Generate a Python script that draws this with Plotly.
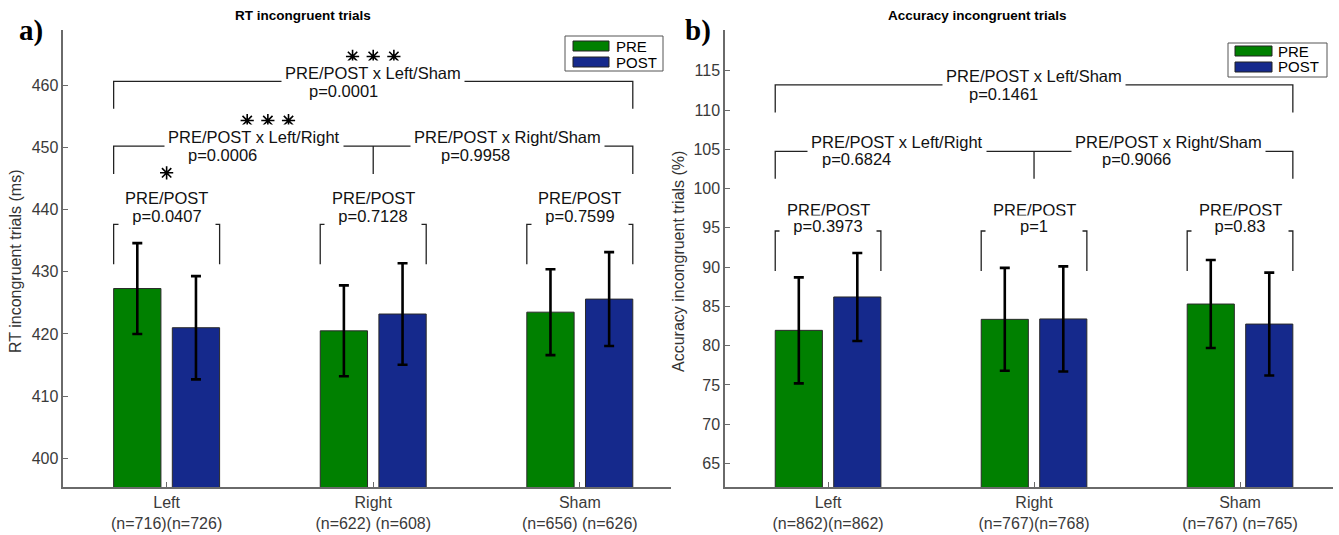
import plotly.graph_objects as go

# ---------------- data ----------------
categories = ["Left", "Right", "Sham"]
cat_pos = [1, 2, 3]
series_names = ["PRE", "POST"]

rt_pre = [427.3, 420.5, 423.5]
rt_pre_err = [7.3, 7.3, 6.9]
rt_post = [421.0, 423.2, 425.6]
rt_post_err = [8.3, 8.15, 7.55]
rt_ticklabels = ["Left<br>(n=716)(n=726)", "Right<br>(n=622) (n=608)", "Sham<br>(n=656) (n=626)"]
rt_yticks = [400, 410, 420, 430, 440, 450, 460]
rt_within_p = ["0.0407", "0.7128", "0.7599"]
rt_within_stars = [1, 0, 0]
rt_pair_names = ["Left/Sham", "Left/Right", "Right/Sham"]
rt_pair_p = ["0.0001", "0.0006", "0.9958"]
rt_pair_stars = [3, 3, 0]

acc_pre = [81.95, 83.35, 85.3]
acc_pre_err = [6.75, 6.55, 5.6]
acc_post = [86.2, 83.4, 82.75]
acc_post_err = [5.6, 6.7, 6.55]
acc_ticklabels = ["Left<br>(n=862)(n=862)", "Right<br>(n=767)(n=768)", "Sham<br>(n=767) (n=765)"]
acc_yticks = [65, 70, 75, 80, 85, 90, 95, 100, 105, 110, 115]
acc_within_p = ["0.3973", "1", "0.83"]
acc_within_stars = [0, 0, 0]
acc_pair_names = ["Left/Sham", "Left/Right", "Right/Sham"]
acc_pair_p = ["0.1461", "0.6824", "0.9066"]
acc_pair_stars = [0, 0, 0]

# ---------------- style ----------------
GREEN = "#008000"
BLUE = "#15298c"
SERIES_COLORS = [GREEN, BLUE]
FONT = "Liberation Sans"
AXC = "#6a6a6a"
TXT = "#111111"
HALF = 0.2565      # half span of a PRE/POST bar pair (outer bar edges)
STAR_DX = 0.1
ANN_SIZE = 16.5

W, H = 1339, 535

panels = [
    dict(name="RT incongruent trials", ylabel="RT incongruent trials (ms)", letter="a)",
         pre=rt_pre, pre_err=rt_pre_err, post=rt_post, post_err=rt_post_err,
         ticktext=rt_ticklabels, yticks=rt_yticks, within_p=rt_within_p,
         within_stars=rt_within_stars, pair_names=rt_pair_names, pair_p=rt_pair_p,
         pair_stars=rt_pair_stars,
         xdom=[0.0473, 0.5009], xrange=[0.5, 3.44], yrange=[395.4, 468.85],
         w_line=437.6, w_bot=431.2, w_t1=441.8, w_t2=438.9, w_star=445.9,
         ls_line=460.6, ls_bot=456.2, ls_t1=(2.0, 461.9), ls_t2=(1.857, 459.1), ls_star=(2.0, 464.6),
         lr_line=450.2, lr_bot=445.7, lr_t1=(1.425, 451.6), lr_t2=(1.27, 448.8), lr_star=(1.49, 454.3),
         rs_t1=(2.649, 451.6), rs_t2=(2.494, 448.8),
         title_x=303, ylab_x=15, letter_x=17,
         leg_box=(565, 663, 36, 71), leg_sw_x=(573, 609), leg_sw_y=[(41, 51), (57, 67)], leg_tx=614),
    dict(name="Accuracy incongruent trials", ylabel="Accuracy incongruent trials (%)", letter="b)",
         pre=acc_pre, pre_err=acc_pre_err, post=acc_post, post_err=acc_post_err,
         ticktext=acc_ticklabels, yticks=acc_yticks, within_p=acc_within_p,
         within_stars=acc_within_stars, pair_names=acc_pair_names, pair_p=acc_pair_p,
         pair_stars=acc_pair_stars,
         xdom=[0.5415, 0.9953], xrange=[0.5, 3.45], yrange=[62.0, 120.2],
         w_line=94.6, w_bot=89.5, w_t1=97.3, w_t2=95.2, w_star=100.0,
         ls_line=113.2, ls_bot=109.7, ls_t1=(2.0, 114.3), ls_t2=(1.854, 112.1), ls_star=(2.0, 117.0),
         lr_line=104.75, lr_bot=101.25, lr_t1=(1.334, 105.9), lr_t2=(1.139, 103.8), lr_star=(1.33, 108.0),
         rs_t1=(2.655, 105.9), rs_t2=(2.498, 103.8),
         title_x=978, ylab_x=678, letter_x=683,
         leg_box=(1228, 1327, 43, 77), leg_sw_x=(1235, 1272), leg_sw_y=[(46, 56), (62, 72)], leg_tx=1276),
]

fig = go.Figure()
shapes = []
annotations = []
layout_axes = {}


def px_x(v):
    return v / W


def px_y(v):
    return 1 - v / H


for i, p in enumerate(panels):
    sfx = "" if i == 0 else str(i + 1)
    xref, yref = "x" + sfx, "y" + sfx
    err_style = dict(type="data", color="black", thickness=2.6, width=5)
    for name, vals, errs, col in ((series_names[0], p["pre"], p["pre_err"], GREEN),
                                  (series_names[1], p["post"], p["post_err"], BLUE)):
        fig.add_trace(go.Bar(x=cat_pos, y=vals, name=name, showlegend=False,
                             xaxis=xref, yaxis=yref,
                             marker=dict(color=col, line=dict(color="#2a2a2a", width=1)),
                             error_y=dict(array=errs, **err_style), hoverinfo="skip"))

    # stars
    sx, sy = [], []

    def add_stars(n, cx, cy):
        for k in range(n):
            sx.append(cx + (k - (n - 1) / 2) * STAR_DX)
            sy.append(cy)
    for c, n in zip(cat_pos, p["within_stars"]):
        add_stars(n, c, p["w_star"])
    add_stars(p["pair_stars"][0], *p["ls_star"])
    add_stars(p["pair_stars"][1], *p["lr_star"])
    if sx:
        fig.add_trace(go.Scatter(x=sx, y=sy, mode="markers", xaxis=xref, yaxis=yref,
                                 showlegend=False, hoverinfo="skip",
                                 marker=dict(symbol="asterisk-open", size=11, color="black",
                                             line=dict(color="black", width=1.6))))

    line_style = dict(color="#222222", width=1.3)
    # within-group brackets
    for c, pv in zip(cat_pos, p["within_p"]):
        x0, x1 = c - HALF, c + HALF
        shapes.append(dict(type="path", xref=xref, yref=yref, line=line_style,
                           path=f"M{x0},{p['w_bot']} L{x0},{p['w_line']} L{x1},{p['w_line']} L{x1},{p['w_bot']}"))
        annotations.append(dict(x=c, y=p["w_t1"], xref=xref, yref=yref, text="PRE/POST",
                                xanchor="center", yanchor="middle",
                                showarrow=False, font=dict(family=FONT, size=ANN_SIZE, color=TXT)))
        annotations.append(dict(x=c, y=p["w_t2"], xref=xref, yref=yref, text="p=" + pv,
                                xanchor="center", yanchor="middle",
                                showarrow=False, bgcolor="white", width=94, borderpad=1,
                                font=dict(family=FONT, size=ANN_SIZE, color=TXT)))
    # Left/Sham bracket
    x0, x1 = cat_pos[0] - HALF, cat_pos[2] + HALF
    shapes.append(dict(type="path", xref=xref, yref=yref, line=line_style,
                       path=f"M{x0},{p['ls_bot']} L{x0},{p['ls_line']} L{x1},{p['ls_line']} L{x1},{p['ls_bot']}"))
    # Left/Right + Right/Sham bracket
    shapes.append(dict(type="path", xref=xref, yref=yref, line=line_style,
                       path=f"M{x0},{p['lr_bot']} L{x0},{p['lr_line']} L{x1},{p['lr_line']} L{x1},{p['lr_bot']}"))
    shapes.append(dict(type="line", xref=xref, yref=yref, line=line_style,
                       x0=cat_pos[1], x1=cat_pos[1], y0=p["lr_line"], y1=p["lr_bot"]))
    for key, k in (("ls", 0), ("lr", 1), ("rs", 2)):
        tx, ty = p[key + "_t1"]
        annotations.append(dict(x=tx, y=ty, xref=xref, yref=yref,
                                xanchor="center", yanchor="middle",
                                text="PRE/POST x " + p["pair_names"][k], showarrow=False,
                                bgcolor="white", borderpad=3,
                                font=dict(family=FONT, size=ANN_SIZE, color=TXT)))
        tx, ty = p[key + "_t2"]
        annotations.append(dict(x=tx, y=ty, xref=xref, yref=yref, text="p=" + p["pair_p"][k],
                                xanchor="center", yanchor="middle",
                                showarrow=False, font=dict(family=FONT, size=ANN_SIZE, color=TXT)))

    # titles, letters, y labels
    annotations.append(dict(x=px_x(p["title_x"]), y=px_y(15), xref="paper", yref="paper",
                            xanchor="center", yanchor="middle",
                            text="<b>" + p["name"] + "</b>", showarrow=False,
                            font=dict(family=FONT, size=13.5, color="#000")))
    annotations.append(dict(x=px_x(p["letter_x"]), y=px_y(30), xref="paper", yref="paper",
                            xanchor="left", yanchor="middle",
                            text="<b>" + p["letter"] + "</b>", showarrow=False,
                            font=dict(family="Liberation Serif", size=29, color="#000")))
    annotations.append(dict(x=px_x(p["ylab_x"]), y=px_y(262), xref="paper", yref="paper",
                            xanchor="center", yanchor="middle",
                            text=p["ylabel"], textangle=-90, showarrow=False,
                            font=dict(family=FONT, size=16, color="#333")))

    # legend (box, swatches, labels)
    bx0, bx1, by0, by1 = p["leg_box"]
    shapes.append(dict(type="rect", xref="paper", yref="paper",
                       x0=px_x(bx0), x1=px_x(bx1), y0=px_y(by1), y1=px_y(by0),
                       fillcolor="white", line=dict(color="#555", width=1)))
    for (sy0, sy1), col, name in zip(p["leg_sw_y"], SERIES_COLORS, series_names):
        shapes.append(dict(type="rect", xref="paper", yref="paper",
                           x0=px_x(p["leg_sw_x"][0]), x1=px_x(p["leg_sw_x"][1]),
                           y0=px_y(sy1), y1=px_y(sy0),
                           fillcolor=col, line=dict(color="#222", width=1)))
        annotations.append(dict(x=px_x(p["leg_tx"]), y=px_y((sy0 + sy1) / 2), xref="paper",
                                yref="paper", xanchor="left", yanchor="middle", text=name,
                                showarrow=False, font=dict(family=FONT, size=15, color="#000")))

    layout_axes["xaxis" + sfx] = dict(domain=p["xdom"], range=p["xrange"], anchor=yref,
                                      tickvals=cat_pos, ticktext=p["ticktext"],
                                      showline=True, linecolor=AXC, linewidth=1.5,
                                      ticks="inside", ticklen=5, tickcolor=AXC, tickwidth=1,
                                      showgrid=False, zeroline=False, fixedrange=True,
                                      tickfont=dict(family=FONT, size=16, color="#3a3a3a"))
    layout_axes["yaxis" + sfx] = dict(domain=[1 - 487 / H, 1 - 30 / H], range=p["yrange"],
                                      anchor=xref, tickvals=p["yticks"],
                                      showline=True, linecolor=AXC, linewidth=1.5,
                                      ticks="inside", ticklen=5, tickcolor=AXC, tickwidth=1,
                                      showgrid=False, zeroline=False, fixedrange=True,
                                      tickfont=dict(family=FONT, size=16, color="#3a3a3a"))

fig.update_layout(width=W, height=H, margin=dict(l=0, r=0, t=0, b=0),
                  paper_bgcolor="white", plot_bgcolor="white",
                  barmode="group", bargap=0.432, bargroupgap=0.194,
                  showlegend=False, shapes=shapes, annotations=annotations,
                  **layout_axes)

fig.write_html("out.html")
